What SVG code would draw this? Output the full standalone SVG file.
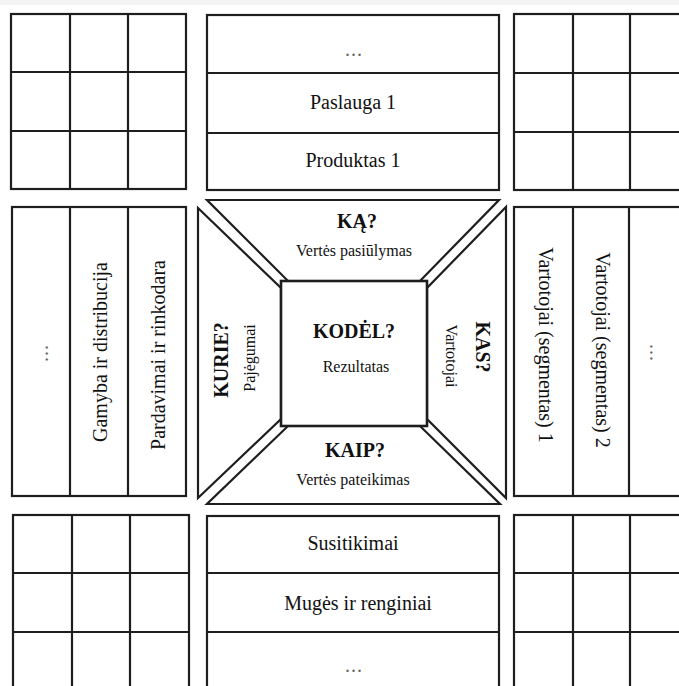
<svg xmlns="http://www.w3.org/2000/svg" width="679" height="686" viewBox="0 0 679 686">
<style>
.b{fill:none;stroke:#1e1e1e;stroke-width:2.2}
.sq{fill:#fff;stroke:#1e1e1e;stroke-width:2.6}
.t{font-family:"Liberation Serif","Times New Roman",serif;font-size:20px;fill:#111;text-anchor:middle}
.s{font-size:16px}
.k{font-weight:bold}
.d{fill:#666;letter-spacing:1px}
</style>
<rect width="679" height="686" fill="#fff"/>
<rect width="679" height="5" fill="#f3f3f3"/>
<g id="grid-top-left">
<rect class="b" x="11" y="14" width="175" height="175"/>
<path class="b" d="M70 14V189M128 14V189M11 72H186M11 131H186"/>
</g>
<g id="offer-list">
<rect class="b" x="207" y="15" width="292" height="175"/>
<path class="b" d="M207 73H499M207 133H499"/>
<text class="t d" x="354" y="56">...</text>
<text class="t" x="353" y="109">Paslauga 1</text>
<text class="t" x="353" y="167">Produktas 1</text>
</g>
<g id="grid-top-right">
<rect class="b" x="514" y="14" width="178" height="176"/>
<path class="b" d="M573 14V190M630 14V190M514 73H692M514 132H692"/>
</g>
<g id="capabilities-list">
<rect class="b" x="12" y="207" width="174" height="289"/>
<path class="b" d="M70 207V496M128 207V496"/>
<text class="t d" transform="translate(48,353) rotate(-90)">...</text>
<text class="t" transform="translate(107,352) rotate(-90)">Gamyba ir distribucija</text>
<text class="t" transform="translate(165,355) rotate(-90)">Pardavimai ir rinkodara</text>
</g>
<g id="customers-list">
<rect class="b" x="514" y="207" width="178" height="289"/>
<path class="b" d="M573 207V496M629 207V496"/>
<text class="t" transform="translate(539,345) rotate(90)">Vartotojai (segmentas) 1</text>
<text class="t" transform="translate(596,350) rotate(90)">Vartotojai (segmentas) 2</text>
<text class="t d" transform="translate(650,353) rotate(90)">...</text>
</g>
<g id="ka">
<path class="b" d="M207 200H499L420 281H288Z"/>
<text class="t k" x="357" y="228">KĄ?</text>
<text class="t s" x="354" y="256">Vertės pasiūlymas</text>
</g>
<g id="kurie">
<path class="b" d="M198 208L281 288V419L198 498Z"/>
<text class="t k" transform="translate(228,360) rotate(-90)">KURIE?</text>
<text class="t s" transform="translate(255,358) rotate(-90)">Pajėgumai</text>
</g>
<g id="kas">
<path class="b" d="M506 207V498L427 419V288Z"/>
<text class="t k" transform="translate(476,347) rotate(90)">KAS?</text>
<text class="t s" transform="translate(446,356) rotate(90)">Vartotojai</text>
</g>
<g id="kaip">
<path class="b" d="M207 504H500L420 426H288Z"/>
<text class="t k" x="355" y="457">KAIP?</text>
<text class="t s" x="353" y="485">Vertės pateikimas</text>
</g>
<g id="kodel">
<rect class="sq" x="281" y="281" width="146" height="145"/>
<text class="t k" x="354" y="338">KODĖL?</text>
<text class="t s" x="356" y="372">Rezultatas</text>
</g>
<g id="grid-bottom-left">
<rect class="b" x="13" y="515" width="176" height="180"/>
<path class="b" d="M72 515V695M130 515V695M13 573H189M13 632H189"/>
</g>
<g id="channels-list">
<rect class="b" x="207" y="516" width="292" height="180"/>
<path class="b" d="M207 573H499M207 632H499"/>
<text class="t" x="353" y="550">Susitikimai</text>
<text class="t" x="358" y="610">Mugės ir renginiai</text>
<text class="t d" x="354" y="672">...</text>
</g>
<g id="grid-bottom-right">
<rect class="b" x="514" y="515" width="178" height="180"/>
<path class="b" d="M573 515V695M630 515V695M514 573H692M514 632H692"/>
</g>
</svg>
